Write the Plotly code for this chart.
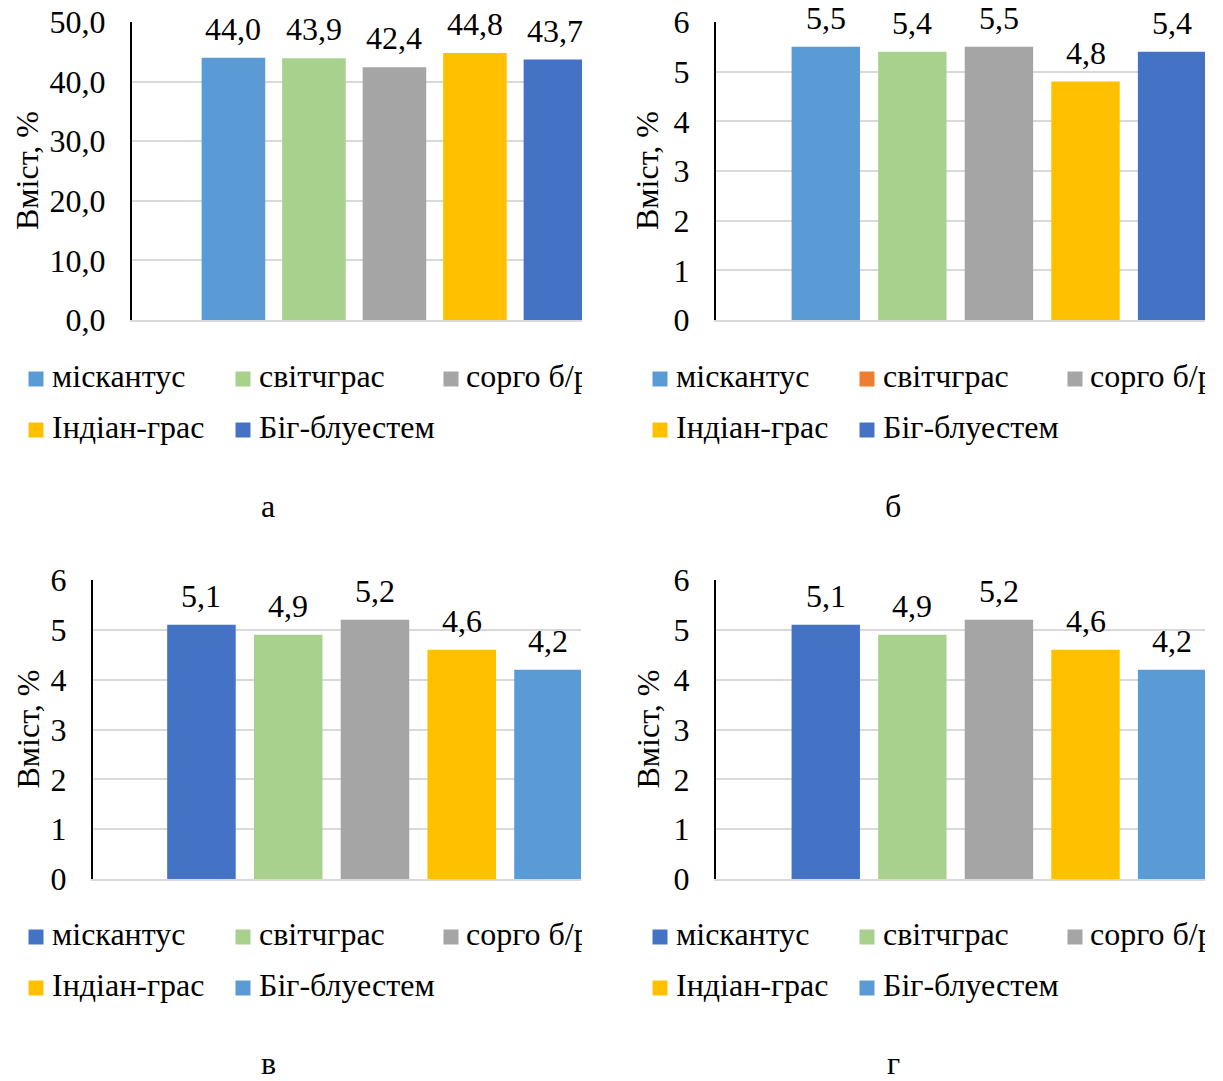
import plotly.graph_objects as go

W, H = 1223, 1081
FONT = '"Liberation Serif", "Times New Roman", Times, serif'

# Species (one bar per species in every panel)
species = ["міскантус", "світчграс", "сорго б/р", "Індіан-грас", "Біг-блуестем"]

# Content, % for each panel
values_a = [44.0, 43.9, 42.4, 44.8, 43.7]
values_b = [5.5, 5.4, 5.5, 4.8, 5.4]
values_v = [5.1, 4.9, 5.2, 4.6, 4.2]
values_g = [5.1, 4.9, 5.2, 4.6, 4.2]

# Y tick values per panel
ticks_a = [0, 10, 20, 30, 40, 50]
ticks_small = [0, 1, 2, 3, 4, 5, 6]

panel_letters = ["а", "б", "в", "г"]
y_title = "Вміст, %"

LIGHT_BLUE = "#5B9BD5"
GREEN = "#A9D18E"
GREY = "#A5A5A5"
GOLD = "#FFC000"
DARK_BLUE = "#4472C4"
ORANGE = "#ED7D31"

bar_colors_top = [LIGHT_BLUE, GREEN, GREY, GOLD, DARK_BLUE]
bar_colors_bottom = [DARK_BLUE, GREEN, GREY, GOLD, LIGHT_BLUE]
legend_colors = [
    [LIGHT_BLUE, GREEN, GREY, GOLD, DARK_BLUE],
    [LIGHT_BLUE, ORANGE, GREY, GOLD, DARK_BLUE],
    [DARK_BLUE, GREEN, GREY, GOLD, LIGHT_BLUE],
    [DARK_BLUE, GREEN, GREY, GOLD, LIGHT_BLUE],
]

# Layout of each panel in page pixels
panels = [
    dict(values=values_a, ticks=ticks_a, fmt=".1f", colors=bar_colors_top,
         left=132, right=582, top=22, bottom=320, xr=[-1.26, 4.33],
         title_x=27, letter_x=268, letter_y=506,
         leg_left=0, leg_right=582, leg_rows=[379, 430],
         sq_x=[36, 243, 451], txt_x=[52, 259, 466]),
    dict(values=values_b, ticks=ticks_small, fmt="d", colors=bar_colors_top,
         left=716, right=1205, top=22, bottom=320, xr=[-1.268, 4.38],
         title_x=647, letter_x=893, letter_y=506,
         leg_left=612, leg_right=1205, leg_rows=[379, 430],
         sq_x=[660, 867, 1075], txt_x=[676, 883, 1090]),
    dict(values=values_v, ticks=ticks_small, fmt="d", colors=bar_colors_bottom,
         left=93, right=581, top=580, bottom=879, xr=[-1.25, 4.375],
         title_x=27, letter_x=268, letter_y=1063,
         leg_left=0, leg_right=582, leg_rows=[937, 988],
         sq_x=[36, 243, 451], txt_x=[52, 259, 466]),
    dict(values=values_g, ticks=ticks_small, fmt="d", colors=bar_colors_bottom,
         left=716, right=1205, top=580, bottom=879, xr=[-1.268, 4.38],
         title_x=647, letter_x=893, letter_y=1063,
         leg_left=612, leg_right=1205, leg_rows=[937, 988],
         sq_x=[660, 867, 1075], txt_x=[676, 883, 1090]),
]

SIZE = 32


def px_x(p):
    return p / W


def px_y(p):
    return 1 - p / H


def fmt_value(v, fmt):
    s = f"{v:.1f}" if fmt == ".1f" else f"{v:g}"
    return s.replace(".", ",")


fig = go.Figure()
annotations = []

# legend slots: (row, column) for each species
slots = [(0, 0), (0, 1), (0, 2), (1, 0), (1, 1)]

for i, p in enumerate(panels):
    bx = f"x{2 * i + 1}" if i else "x"
    by = f"y{2 * i + 1}" if i else "y"
    lx = f"x{2 * i + 2}"
    ly = f"y{2 * i + 2}"
    bxa = "xaxis" + (str(2 * i + 1) if i else "")
    bya = "yaxis" + (str(2 * i + 1) if i else "")
    lxa = "xaxis" + str(2 * i + 2)
    lya = "yaxis" + str(2 * i + 2)

    fig.add_trace(go.Bar(
        x=species, y=p["values"], marker=dict(color=p["colors"], line=dict(width=0)),
        xaxis=bx, yaxis=by, showlegend=False, hoverinfo="skip",
    ))

    ymax = p["ticks"][-1]
    fig.update_layout({
        bxa: dict(domain=[px_x(p["left"]), px_x(p["right"])], anchor=by,
                  range=p["xr"], showticklabels=False, showgrid=False,
                  zeroline=False, showline=True, linecolor="#D9D9D9",
                  linewidth=1.5, ticks="", automargin=False),
        bya: dict(domain=[px_y(p["bottom"]), px_y(p["top"])], anchor=bx,
                  range=[0, ymax], tickvals=p["ticks"],
                  ticktext=[fmt_value(t, p["fmt"]) for t in p["ticks"]],
                  showgrid=True, gridcolor="#D9D9D9", gridwidth=1.5,
                  zeroline=False, showline=True, linecolor="black",
                  linewidth=2, ticks="", ticklabelstandoff=18,
                  automargin=False,
                  tickfont=dict(family=FONT, size=SIZE, color="black")),
    })

    # value labels above the bars
    for name, v in zip(species, p["values"]):
        annotations.append(dict(
            x=name, y=v, xref=bx, yref=by, text=fmt_value(v, ".1f"),
            showarrow=False, yanchor="bottom", yshift=10, borderpad=0,
            font=dict(family=FONT, size=SIZE, color="black"),
        ))

    # axis title
    annotations.append(dict(
        x=px_x(p["title_x"]), y=px_y((p["top"] + p["bottom"]) / 2),
        xref="paper", yref="paper", text=y_title, textangle=-90,
        showarrow=False, xanchor="center", yanchor="middle",
        font=dict(family=FONT, size=SIZE, color="black"),
    ))

    # panel letter
    annotations.append(dict(
        x=px_x(p["letter_x"]), y=px_y(p["letter_y"]), xref="paper",
        yref="paper", text=panel_letters[i], showarrow=False,
        xanchor="center", yanchor="middle",
        font=dict(family=FONT, size=SIZE, color="black"),
    ))

    # legend drawn on its own clipped subplot
    r0, r1 = p["leg_rows"]
    sq_x = [p["sq_x"][c] for r, c in slots]
    sq_y = [p["leg_rows"][r] for r, c in slots]
    tx_x = [p["txt_x"][c] for r, c in slots]
    fig.add_trace(go.Scatter(
        x=sq_x, y=sq_y, mode="markers", xaxis=lx, yaxis=ly,
        marker=dict(symbol="square", size=15, color=legend_colors[i],
                    line=dict(width=0)),
        showlegend=False, hoverinfo="skip", cliponaxis=True,
    ))
    fig.add_trace(go.Scatter(
        x=tx_x, y=sq_y, mode="text", text=species, textposition="middle right",
        xaxis=lx, yaxis=ly, showlegend=False, hoverinfo="skip",
        textfont=dict(family=FONT, size=SIZE, color="black"), cliponaxis=True,
    ))
    top, bot = r0 - 35, r1 + 35
    fig.update_layout({
        lxa: dict(domain=[px_x(p["leg_left"]), px_x(p["leg_right"])],
                  range=[p["leg_left"], p["leg_right"]], visible=False,
                  anchor=ly, fixedrange=True),
        lya: dict(domain=[px_y(bot), px_y(top)], range=[bot, top],
                  visible=False, anchor=lx, fixedrange=True),
    })

fig.update_layout(
    width=W, height=H,
    margin=dict(l=0, r=0, t=0, b=0, pad=0, autoexpand=False),
    paper_bgcolor="white", plot_bgcolor="white",
    bargap=0.21, showlegend=False, annotations=annotations,
    font=dict(family=FONT, color="black"),
)

fig.write_html("out.html", config=dict(displayModeBar=False))
